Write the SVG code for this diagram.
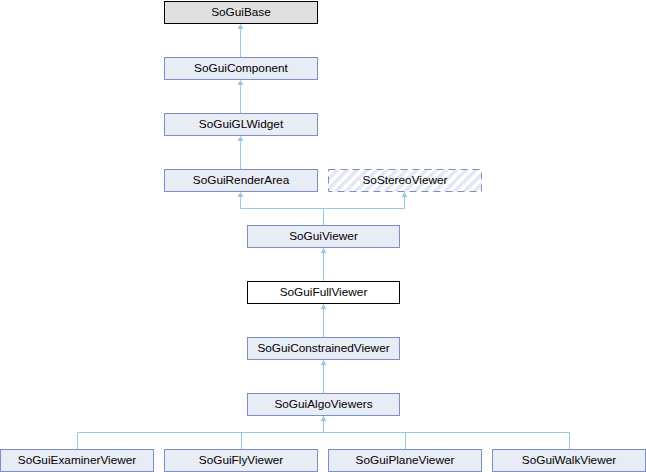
<svg xmlns="http://www.w3.org/2000/svg" width="646" height="472" viewBox="0 0 646 472">
<style>
.n rect{fill:#e8ecf5;stroke:#7a8fc3;stroke-width:1}
.n text{font-family:"Liberation Sans",Arial,sans-serif;font-size:11.8px;fill:#000;text-anchor:middle}
.e{fill:none;stroke:#99c8e5;stroke-width:1}
.ah{fill:#99c8e5}
</style>
<defs>
<pattern id="h" patternUnits="userSpaceOnUse" width="7" height="7" patternTransform="rotate(45)">
<rect width="7" height="7" fill="#ffffff"/>
<rect width="3.5" height="7" fill="#e2e7f1"/>
</pattern>
</defs>
<rect width="646" height="472" fill="#fff"/>
<g id="edges">
<path class="e" d="M240.5,57 V24.5"/>
<path class="e" d="M240.5,113 V80.5"/>
<path class="e" d="M240.5,169 V136.5"/>
<path class="e" d="M323.5,225 V208.5 H240.5 V192.5"/>
<path class="e" d="M323.5,208.5 H404.5 V192.5"/>
<path class="e" d="M323.5,281 V248.5"/>
<path class="e" d="M323.5,337 V304.5"/>
<path class="e" d="M323.5,393 V360.5"/>
<path class="e" d="M77.5,449 V432.5 H569.5 V449"/>
<path class="e" d="M241.5,449 V432.5"/>
<path class="e" d="M405.5,449 V432.5"/>
<path class="e" d="M323.5,432.5 V416.5"/>
<g class="ah">
<path d="M240.5,24 l-3,5 h6 z"/>
<path d="M240.5,80 l-3,5 h6 z"/>
<path d="M240.5,136 l-3,5 h6 z"/>
<path d="M240.5,192 l-3,5 h6 z"/>
<path d="M404.5,192 l-3,5 h6 z"/>
<path d="M323.5,248 l-3,5 h6 z"/>
<path d="M323.5,304 l-3,5 h6 z"/>
<path d="M323.5,360 l-3,5 h6 z"/>
<path d="M323.5,416 l-3,5 h6 z"/>
</g>
</g>
<g id="SoGuiBase" class="n"><rect x="164.5" y="1.5" width="153" height="22" style="fill:#e0e0e0;stroke:#000"/><text x="241" y="16">SoGuiBase</text></g>
<g id="SoGuiComponent" class="n"><rect x="164.5" y="57.5" width="153" height="22"/><text x="241" y="72">SoGuiComponent</text></g>
<g id="SoGuiGLWidget" class="n"><rect x="164.5" y="113.5" width="153" height="22"/><text x="241" y="128">SoGuiGLWidget</text></g>
<g id="SoGuiRenderArea" class="n"><rect x="164.5" y="169.5" width="153" height="22"/><text x="241" y="184">SoGuiRenderArea</text></g>
<g id="SoStereoViewer" class="n"><rect x="328.5" y="169.5" width="153" height="22" style="fill:url(#h);stroke-dasharray:7,5"/><text x="405" y="184">SoStereoViewer</text></g>
<g id="SoGuiViewer" class="n"><rect x="247.5" y="225.5" width="152" height="22"/><text x="323.5" y="240">SoGuiViewer</text></g>
<g id="SoGuiFullViewer" class="n"><rect x="247.5" y="281.5" width="152" height="22" style="fill:#fff;stroke:#000"/><text x="323.5" y="296">SoGuiFullViewer</text></g>
<g id="SoGuiConstrainedViewer" class="n"><rect x="247.5" y="337.5" width="152" height="22"/><text x="323.5" y="352">SoGuiConstrainedViewer</text></g>
<g id="SoGuiAlgoViewers" class="n"><rect x="247.5" y="393.5" width="152" height="22"/><text x="323.5" y="408">SoGuiAlgoViewers</text></g>
<g id="SoGuiExaminerViewer" class="n"><rect x="0.5" y="449.5" width="153" height="22"/><text x="77" y="464">SoGuiExaminerViewer</text></g>
<g id="SoGuiFlyViewer" class="n"><rect x="164.5" y="449.5" width="153" height="22"/><text x="241" y="464">SoGuiFlyViewer</text></g>
<g id="SoGuiPlaneViewer" class="n"><rect x="328.5" y="449.5" width="153" height="22"/><text x="405" y="464">SoGuiPlaneViewer</text></g>
<g id="SoGuiWalkViewer" class="n"><rect x="492.5" y="449.5" width="153" height="22"/><text x="569" y="464">SoGuiWalkViewer</text></g>
</svg>
